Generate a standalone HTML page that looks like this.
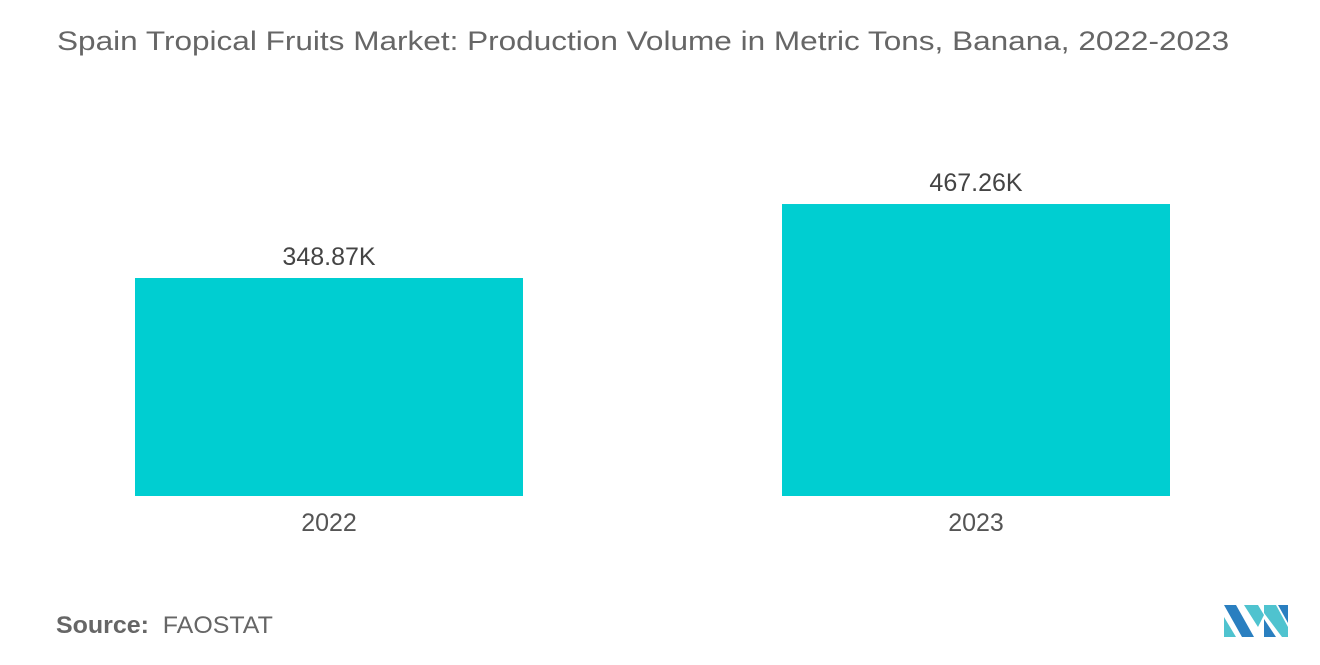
<!DOCTYPE html>
<html><head><meta charset="utf-8"><style>
body{margin:0;width:1320px;height:665px;background:#fff;font-family:"Liberation Sans",sans-serif;overflow:hidden;position:relative}
.t{position:absolute;color:#555}
</style></head><body>
<div class="t" style="left:57px;top:26px;font-size:27px;color:#666;transform:scaleX(1.168);transform-origin:0 0;white-space:nowrap">Spain Tropical Fruits Market: Production Volume in Metric Tons, Banana, 2022-2023</div>
<svg id="chart" width="1320" height="665" style="position:absolute;left:0;top:0"></svg>
<div class="t" style="left:56px;top:612px;font-size:24px;color:#666;transform:scaleX(1.04);transform-origin:0 0;white-space:nowrap"><b style="font-weight:600">Source:</b>&nbsp;&nbsp;FAOSTAT</div>
<svg width="70" height="36" style="position:absolute;left:1224px;top:603px">
<polygon points="0,2 12,2 30,34 18,34" fill="#2a7fc0"/>
<polygon points="0,14 12,34 0,34" fill="#4fc3cf"/>
<polygon points="20,2 34,2 40,12 34,24" fill="#4fc3cf"/>
<polygon points="40,2 52,2 64,24 64,34 58,34 40,10" fill="#4fc3cf"/>
<polygon points="54,2 64,2 64,20" fill="#2a7fc0"/>
<polygon points="40,16 52,34 40,34" fill="#2a7fc0"/>
</svg>
<script>
const categories=["2022","2023"];
const values=[348.87,467.26];
const labels=["348.87K","467.26K"];
const svg=document.getElementById('chart');
const NS='http://www.w3.org/2000/svg';
const base=496, scale=218/348.87;
const y=v=>base-v*scale;
const xs=i=>135+i*647;
categories.forEach((c,i)=>{
  const r=document.createElementNS(NS,'rect');
  r.setAttribute('x',xs(i));r.setAttribute('y',y(values[i]));
  r.setAttribute('width',388);r.setAttribute('height',base-y(values[i]));
  r.setAttribute('fill','#00ced1');
  
  
  svg.appendChild(r);
  const t=document.createElementNS(NS,'text');
  t.setAttribute('x',xs(i)+194);t.setAttribute('y',y(values[i])-13);
  t.setAttribute('text-anchor','middle');t.setAttribute('font-size','25');t.setAttribute('fill','#444');
  t.textContent=labels[i];
  
  
  svg.appendChild(t);
  const a=document.createElementNS(NS,'text');
  a.setAttribute('x',xs(i)+194);a.setAttribute('y',531);
  a.setAttribute('text-anchor','middle');a.setAttribute('font-size','25');a.setAttribute('fill','#555');
  a.textContent=c;
  
  
  svg.appendChild(a);
});
</script>
</body></html>
